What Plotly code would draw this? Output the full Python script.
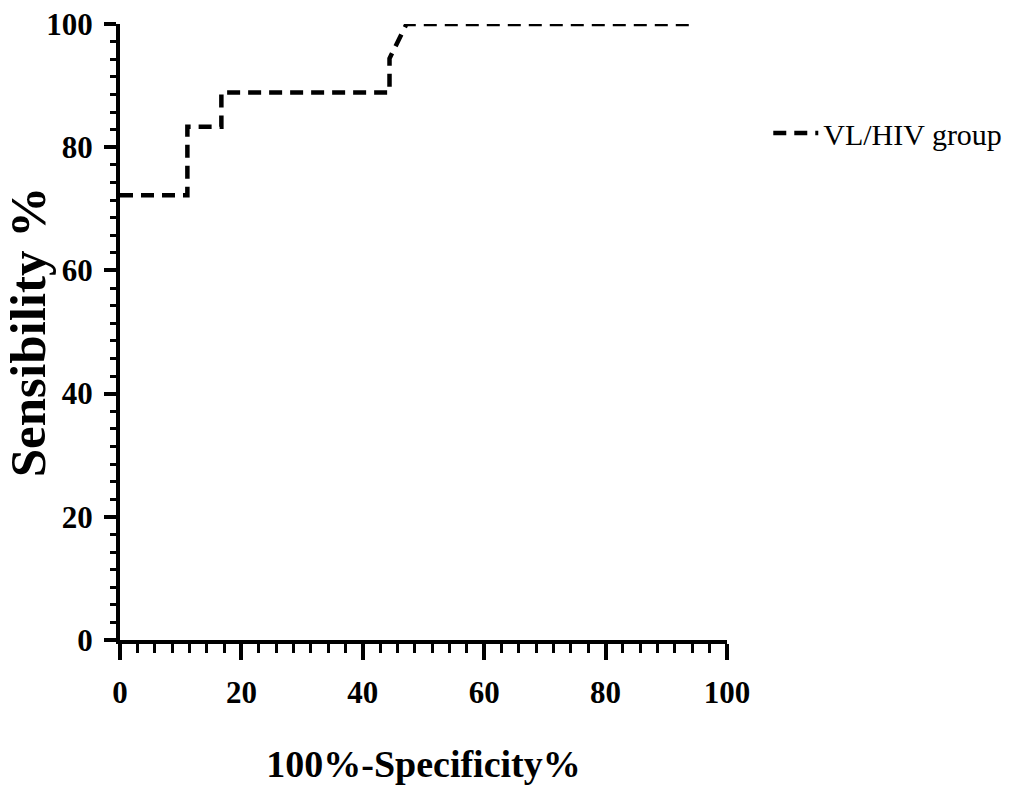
import plotly.graph_objects as go

# ROC curve data (100% - Specificity %, Sensitivity %)
fpr = [0, 11.1, 11.1, 16.7, 16.7, 44.4, 44.4, 47.2, 94.4]
tpr = [72.2, 72.2, 83.3, 83.3, 88.9, 88.9, 94.4, 100, 100]
series_name = "VL/HIV group"
tick_vals = [0, 20, 40, 60, 80, 100]
tick_text = ["0", "20", "40", "60", "80", "100"]

FONT = "Liberation Serif"

fig = go.Figure()
fig.add_trace(go.Scatter(
    x=fpr, y=tpr, mode="lines", name=series_name,
    line=dict(color="black", width=4.5, dash="13px,8px"),
))

axis_common = dict(
    range=[0, 100], tickvals=tick_vals, ticktext=tick_text,
    showline=True, linecolor="black", linewidth=4,
    ticks="outside", tickwidth=3.5, tickcolor="black",
    showgrid=False, zeroline=False, automargin=False,
    tickfont=dict(family=FONT, size=31, color="black", weight="bold"),
)

fig.update_xaxes(**axis_common, ticklen=16, ticklabelstandoff=6,
                 minor=dict(dtick=20 / 7, ticks="outside", ticklen=9, tickwidth=3,
                            tickcolor="black", showgrid=False),
                 title=dict(text="100%-Specificity%", standoff=42,
                            font=dict(family=FONT, size=38, color="black", weight="bold")))
fig.update_yaxes(**axis_common, ticklen=12, ticklabelstandoff=5,
                 minor=dict(dtick=20 / 7, ticks="outside", ticklen=6, tickwidth=3,
                            tickcolor="black", showgrid=False),
                 title=dict(text="Sensibility %", standoff=27,
                            font=dict(family=FONT, size=51, color="black", weight="bold")))

fig.update_layout(
    width=1023, height=791,
    margin=dict(l=120, r=296, t=24, b=151),
    paper_bgcolor="white", plot_bgcolor="white",
    showlegend=True,
    legend=dict(x=1.068, y=0.823, xanchor="left", yanchor="middle",
                itemwidth=45,
                font=dict(family=FONT, size=30, color="black"),
                bgcolor="rgba(0,0,0,0)"),
)

fig.write_html("out.html")
